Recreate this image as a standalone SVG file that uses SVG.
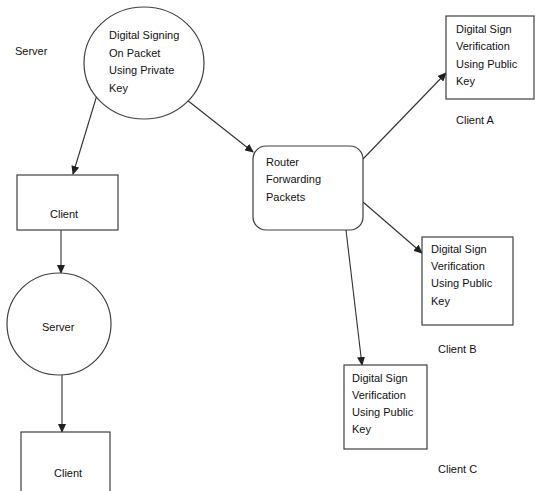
<svg xmlns="http://www.w3.org/2000/svg" width="535" height="491" viewBox="0 0 535 491">
<style>
.shape{fill:#fff;stroke:#404040;stroke-width:1.2}
.conn{fill:none;stroke:#303030;stroke-width:1.1}
text{font-family:"Liberation Sans",Arial,sans-serif;font-size:11px;fill:#111}
</style>
<defs>
<marker id="arr" markerUnits="userSpaceOnUse" markerWidth="9" markerHeight="8" refX="8" refY="4" orient="auto">
<path d="M0,0 L9,4 L0,8 Z" fill="#202020"/>
</marker>
</defs>
<rect width="535" height="491" fill="#fff"/>
<g id="connectors">
<line class="conn" x1="97" y1="95" x2="73" y2="174" marker-end="url(#arr)"/>
<line class="conn" x1="187" y1="100" x2="253" y2="152" marker-end="url(#arr)"/>
<line class="conn" x1="363" y1="159" x2="446" y2="73" marker-end="url(#arr)"/>
<line class="conn" x1="363" y1="202" x2="422" y2="253" marker-end="url(#arr)"/>
<line class="conn" x1="346" y1="230" x2="362" y2="365" marker-end="url(#arr)"/>
<line class="conn" x1="61" y1="230" x2="61" y2="273" marker-end="url(#arr)"/>
<line class="conn" x1="62" y1="375" x2="62" y2="432" marker-end="url(#arr)"/>
</g>
<g id="server-label"><text x="15" y="55">Server</text></g>
<g id="signing">
<ellipse class="shape" cx="144" cy="63" rx="60" ry="56"/>
<text x="109" y="39">Digital Signing</text>
<text x="109" y="57">On Packet</text>
<text x="109" y="74">Using Private</text>
<text x="109" y="92">Key</text>
</g>
<g id="client1">
<rect class="shape" x="17" y="175" width="101" height="55"/>
<text x="50" y="218">Client</text>
</g>
<g id="server2">
<ellipse class="shape" cx="59" cy="324" rx="52" ry="51"/>
<text x="42" y="331">Server</text>
</g>
<g id="client2">
<rect class="shape" x="21" y="432" width="89" height="60"/>
<text x="54" y="477">Client</text>
</g>
<g id="router">
<rect class="shape" x="253" y="146" width="110" height="84" rx="13" ry="13"/>
<text x="266" y="166">Router</text>
<text x="266" y="183">Forwarding</text>
<text x="266" y="201">Packets</text>
</g>
<g id="clientA">
<rect class="shape" x="446" y="16" width="88" height="83"/>
<text x="456" y="33">Digital Sign</text>
<text x="456" y="50">Verification</text>
<text x="456" y="68">Using Public</text>
<text x="456" y="85">Key</text>
<text x="456" y="124">Client A</text>
</g>
<g id="clientB">
<rect class="shape" x="422" y="237" width="91" height="88"/>
<text x="431" y="253">Digital Sign</text>
<text x="431" y="270">Verification</text>
<text x="431" y="287">Using Public</text>
<text x="431" y="305">Key</text>
<text x="438" y="353">Client B</text>
</g>
<g id="clientC">
<rect class="shape" x="344" y="365" width="83" height="84"/>
<text x="352" y="382">Digital Sign</text>
<text x="352" y="399">Verification</text>
<text x="352" y="416">Using Public</text>
<text x="352" y="433">Key</text>
<text x="438" y="473">Client C</text>
</g>
</svg>
